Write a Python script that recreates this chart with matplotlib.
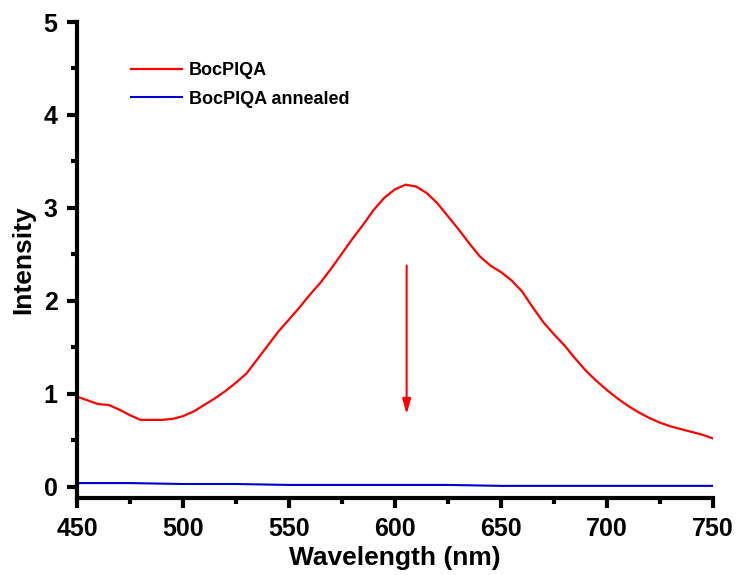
import numpy as np
import matplotlib
matplotlib.use("Agg")
from matplotlib import pyplot as plt
from matplotlib.ticker import MultipleLocator

plt.rcParams['font.family'] = ['Liberation Sans', 'DejaVu Sans']
plt.rcParams['font.weight'] = 'bold'

# emission spectra
wl_red = [450, 455, 460, 465, 470, 475, 480, 485, 490, 495, 500, 505, 510, 515,
          520, 525, 530, 535, 540, 545, 550, 555, 560, 565, 570, 575, 580, 585,
          590, 595, 600, 605, 610, 615, 620, 625, 630, 635, 640, 645, 650, 655,
          660, 665, 670, 675, 680, 685, 690, 695, 700, 705, 710, 715, 720, 725,
          730, 735, 740, 745, 750]
bocpiqa = [0.97, 0.93, 0.89, 0.88, 0.83, 0.77, 0.72, 0.72, 0.72, 0.73, 0.76, 0.81,
           0.88, 0.95, 1.03, 1.12, 1.22, 1.37, 1.52, 1.67, 1.80, 1.93, 2.07, 2.20,
           2.35, 2.51, 2.67, 2.82, 2.98, 3.11, 3.20, 3.25, 3.23, 3.16, 3.05, 2.91,
           2.77, 2.62, 2.48, 2.38, 2.31, 2.22, 2.10, 1.93, 1.77, 1.64, 1.52, 1.38,
           1.25, 1.14, 1.04, 0.95, 0.87, 0.80, 0.74, 0.69, 0.65, 0.62, 0.59, 0.56,
           0.52]

wl_blue = [450, 475, 500, 525, 550, 575, 600, 625, 650, 675, 700, 725, 750]
annealed = [0.04, 0.04, 0.03, 0.03, 0.02, 0.02, 0.02, 0.02, 0.01, 0.01, 0.01, 0.01, 0.01]

fig = plt.figure(figsize=(7.38, 5.75), dpi=100)
ax = fig.add_axes([0.1043, 0.134, 0.8618, 0.8277])

ax.plot(wl_red, bocpiqa, color='#ff0000', lw=1.6, label='BocPIQA',
        solid_joinstyle='round')
ax.plot(wl_blue, annealed, color='#0000cc', lw=1.5, label='BocPIQA annealed')

# decrease arrow
ax.annotate('', xy=(605.5, 0.78), xytext=(605.5, 2.38),
            arrowprops=dict(arrowstyle='-|>,head_length=0.9,head_width=0.25',
                            color='#ff0000', lw=1.5, shrinkA=0, shrinkB=0))

ax.set_xlim(450, 750)
ax.set_ylim(-0.12, 5)
ax.spines['top'].set_visible(False)
ax.spines['right'].set_visible(False)
ax.spines['left'].set_bounds(-0.12, 5)
for s in ('left', 'bottom'):
    ax.spines[s].set_linewidth(3)
    ax.spines[s].set_capstyle('projecting')

ax.xaxis.set_major_locator(MultipleLocator(50))
ax.xaxis.set_minor_locator(MultipleLocator(25))
ax.yaxis.set_major_locator(MultipleLocator(1))
ax.yaxis.set_minor_locator(MultipleLocator(0.5))
ax.tick_params(which='major', direction='out', length=7, width=3, labelsize=18, pad=7)
ax.tick_params(which='minor', direction='out', length=4, width=3)
for axis in (ax.xaxis, ax.yaxis):
    for t in axis.get_major_ticks() + axis.get_minor_ticks():
        t.tick1line.set_solid_capstyle('round')

ax.set_xlabel('Wavelength (nm)', fontsize=19, fontweight='bold', labelpad=3)
ax.set_ylabel('Intensity', fontsize=19, fontweight='bold', labelpad=6)

ax.legend(loc='upper left', bbox_to_anchor=(0.060, 0.950), frameon=False,
          handlelength=2.8, handletextpad=0.4, labelspacing=0.65,
          prop={'weight': 'bold', 'size': 13})

fig.savefig('out.png', dpi=100)
